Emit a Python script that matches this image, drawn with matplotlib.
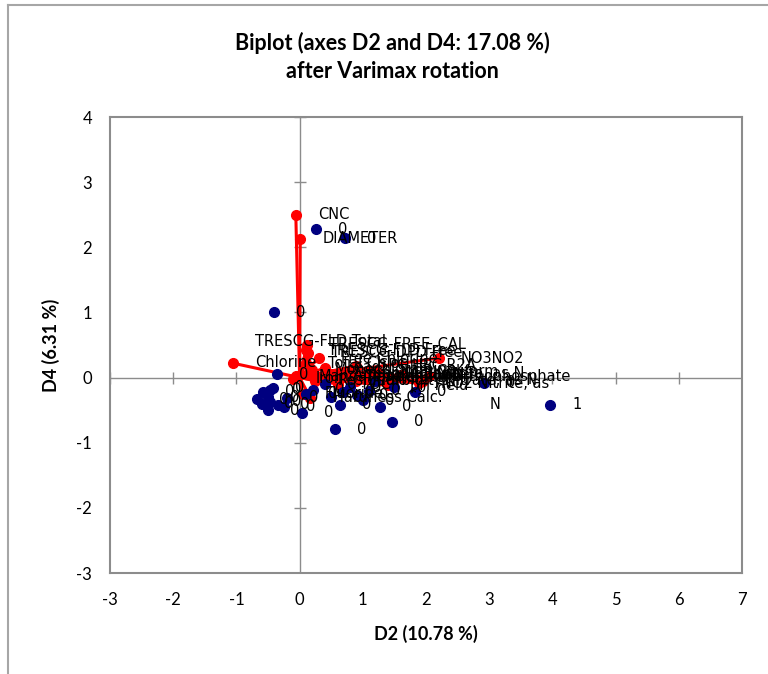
import numpy as np
import matplotlib.pyplot as plt
from matplotlib.lines import Line2D

plt.rcParams["axes.unicode_minus"] = False

# observations (blue dots) -- D2, D4 coordinates and labels
obs_x = [0.26, 0.72, -0.41, -0.36, -0.47, -0.42, -0.58, -0.68, -0.50, -0.47,
         -0.50, -0.34, -0.20, 0.04, 0.21, 0.56, 0.64, 1.27, 1.46, 0.69,
         0.91, 1.83, 2.92, 3.96, 0.40, 0.80, 1.10, 1.50, 1.20, 0.50,
         1.00, -0.25, -0.60, 0.10]
obs_y = [2.28, 2.14, 1.00, 0.05, -0.19, -0.16, -0.22, -0.33, -0.30, -0.37,
         -0.50, -0.42, -0.31, -0.54, -0.19, -0.79, -0.42, -0.45, -0.68, -0.22,
         -0.27, -0.22, -0.08, -0.42, -0.10, -0.15, -0.20, -0.15, -0.05, -0.30,
         -0.35, -0.45, -0.40, -0.25]
obs_lab = ["0"] * len(obs_x)
obs_lab[23] = "1"

# variables (red vectors) -- loadings and labels
var_x = [-0.06, 0.01, -1.05, 0.10, 0.14, 0.12, 0.30, 0.90, 2.20, 1.26,
         1.89, 1.95, 0.10, 0.20, 0.50, 0.70, 1.40, 0.90, 0.60, 0.25,
         0.05, 0.17, 0.80, 1.00, -0.10, -0.05, 1.20, 0.40, 1.60, 2.05]
var_y = [2.50, 2.13, 0.22, 0.42, 0.38, 0.50, 0.30, 0.18, 0.30, 0.07,
         -0.08, -0.05, 0.22, 0.12, 0.05, 0.02, -0.12, -0.05, -0.10, -0.05,
         -0.25, -0.31, 0.07, 0.00, -0.02, 0.02, 0.10, 0.15, 0.04, 0.02]
var_lab = ["CNC", "DIAMETER", "TRESCG-FLD Total\nChlorine", "TRESCG-FLD Free",
           "TRESCG-DPD Free", "TRESCG-FREE_CAL", "Free Chlorine",
           "SPC HPC R2A", "NO3NO2", "NO3 Nitrite, as N",
           "NO2 Nitrite, as\nN", "Nitrate, as N",
           "Total Chlorine", "Monochloramine", "Ammonia, as N", "Temperature",
           "pH Field", "Turbidity", "TOC", "Residual", "Fluoride",
           "Hardness Calc.", "Conductivity", "Alkalinity", "Iron", "Manganese",
           "Total Coliform", "Lead", "Copper", "Orthophosphate"]

xticks = np.arange(-3, 8)
yticks = np.arange(-3, 5)

fig = plt.figure(figsize=(7.68, 6.74), dpi=100)
ax = fig.add_axes([110 / 768, 1 - 573 / 674, 632 / 768, 456 / 674])

gray = "#8c8c8c"
# axes through the origin
ax.axhline(0, color=gray, lw=1, zorder=1)
ax.axvline(0, color=gray, lw=1, zorder=1)
ax.plot(xticks, np.zeros_like(xticks), ls="none", marker="|", ms=9,
        mew=1, color=gray, zorder=1)
ax.plot(np.zeros_like(yticks), yticks, ls="none", marker="_", ms=9,
        mew=1, color=gray, zorder=1)

# observations
ax.plot(obs_x, obs_y, "o", color="#000080", ms=7, zorder=3)

# variables
for x, y in zip(var_x, var_y):
    ax.plot([0, x], [0, y], color="#ff0000", lw=2.2, zorder=2)
ax.plot(var_x, var_y, "o", color="#ff0000", ms=7, zorder=2)

# a couple of wrapped labels sit off-centre, like in the excel export
shift = {"TRESCG-FLD Total\nChlorine": 8, "NO2 Nitrite, as\nN": -8}
malign = {"NO2 Nitrite, as\nN": "center"}

lab_font = dict(family="DejaVu Sans", size=10.5, color="black", zorder=4,
                ha="left", va="center", linespacing=1.45)
for x, y, s in zip(obs_x, obs_y, obs_lab):
    ax.annotate(s, (x, y), xytext=(16, 0), textcoords="offset points",
                **lab_font)
for x, y, s in zip(var_x, var_y, var_lab):
    ax.annotate(s, (x, y), xytext=(16, shift.get(s, 0)),
                textcoords="offset points",
                multialignment=malign.get(s, "left"), **lab_font)

ax.set_xlim(-3, 7)
ax.set_ylim(-3, 4)
ax.set_xticks(xticks)
ax.set_yticks(yticks)
ax.tick_params(length=0, labelsize=12, pad=14)
ax.tick_params(axis="y", pad=13)
for lab in ax.get_xticklabels() + ax.get_yticklabels():
    lab.set_family("Lato")
for sp in ax.spines.values():
    sp.set_color(gray)
    sp.set_linewidth(1.5)

ax.set_xlabel("D2 (10.78 %)", family="Lato", weight="bold", size=13,
              labelpad=12)
ax.set_ylabel("D4 (6.31 %)", family="Lato", weight="bold", size=13,
              labelpad=12)

fig.text(392 / 768, 1 - 43 / 674, "Biplot (axes D2 and D4: 17.08 %)",
         ha="center", va="center", family="Lato", weight="bold", size=15.5)
fig.text(392 / 768, 1 - 71 / 674, "after Varimax rotation",
         ha="center", va="center", family="Lato", weight="bold", size=15.5)

# chart area border (left and top edges only visible)
fig.add_artist(Line2D([8 / 768, 8 / 768], [0, 1 - 5 / 674],
                      transform=fig.transFigure, color="#a6a6a6", lw=1.5))
fig.add_artist(Line2D([8 / 768, 1], [1 - 5 / 674, 1 - 5 / 674],
                      transform=fig.transFigure, color="#a6a6a6", lw=1.5))

fig.savefig("out.png", dpi=100)
